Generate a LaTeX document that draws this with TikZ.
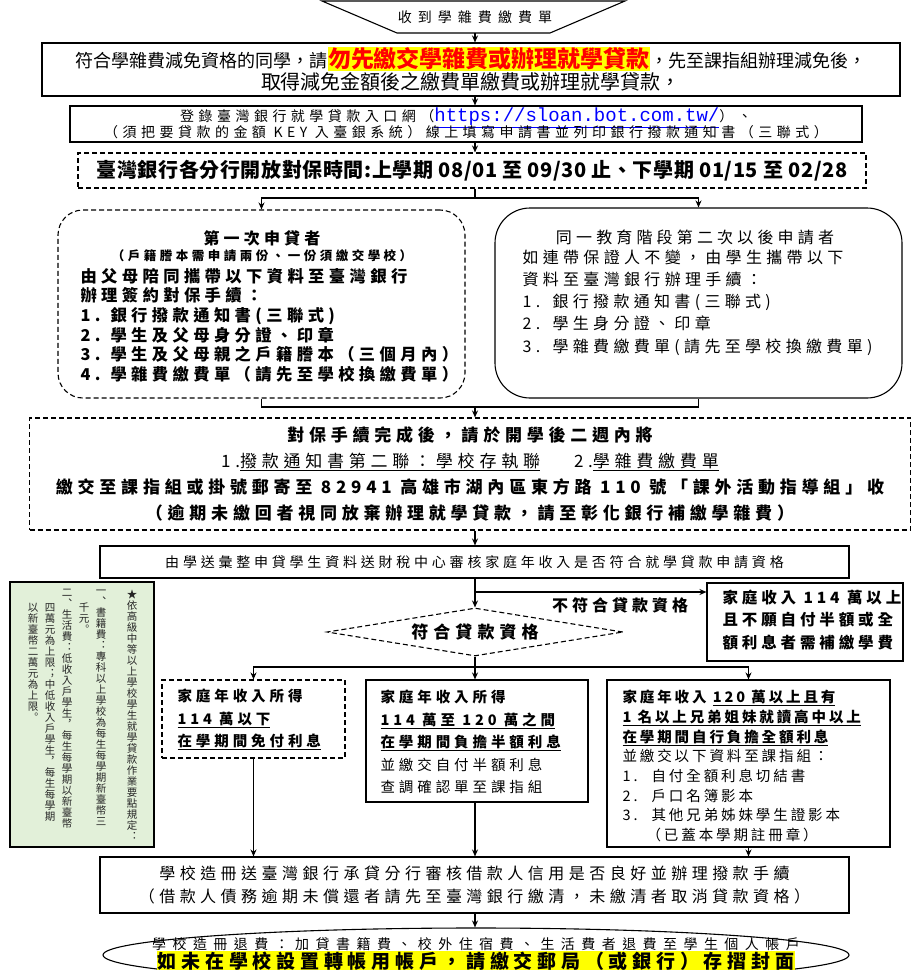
\documentclass[tikz,border=0pt]{standalone}
\usepackage{fontspec}
\setmainfont{Noto Sans CJK TC}
\setmonofont{Liberation Mono}
\usetikzlibrary{arrows.meta,shapes.geometric}
\definecolor{notegreen}{RGB}{226,240,217}
\definecolor{hlyellow}{RGB}{255,255,0}
\newcommand\fs[2]{\fontsize{#1}{#2}\selectfont}
\newcommand\ls[1]{\addfontfeature{LetterSpace=#1}}
\newcommand\ulbar[1]{\leavevmode\vtop{\hbox{#1}\kern1.2pt\hrule height0.9pt}}
\newcommand\hlbox[1]{{\setlength\fboxsep{0.5pt}\colorbox{hlyellow}{#1}}}
\newcommand\itemno[2][30pt]{\makebox[#1][l]{#2}}
\newcommand\vcol[1]{\vbox{\baselineskip=11pt\lineskiplimit=-20pt\expandafter\vcolchar#1\relax}}
\def\vcolchar#1{\ifx\relax#1\else\hbox to 11pt{\hss#1\hss}\expandafter\vcolchar\fi}
\begin{document}
\begin{tikzpicture}
            [x=1pt,y=-1pt,line width=1.1pt,every node/.style={inner sep=0pt},
             arr/.style={-{Stealth[length=7pt,width=6pt]}},
             box/.style n args={2}{draw,minimum width=#1,minimum height=#2},
             dbox/.style n args={2}{box={#1}{#2},dash pattern=on 5pt off 3pt},
             txt/.style={align=left,anchor=west}]
            \useasboundingbox (0,0) rectangle (920,970);
            \draw (322,1) -- (625,1) -- (550,33) -- (397,33) -- cycle;
            \node[font=\fs{14}{14}\ls{43}] (n1) at (475,17) {收到學雜費繳費單};
            \coordinate (n1b) at (475,33);
            \node[box={858}{53},align=center,font=\fs{18}{22}] (n2) at (471,69.5)
              {符合學雜費減免資格的同學，請\hlbox{\textcolor{red}{\fs{23}{23}\bfseries 勿先繳交學雜費或辦理就學貸款}}，先至課指組辦理減免後，\\
               {\fs{20}{22}取得減免金額後之繳費單繳費或辦理就學貸款，}};
            \node[box={792}{36},align=center,font=\fs{14}{15.5}\ls{32}] (n3) at (466,124)
              {登錄臺灣銀行就學貸款入口網（\smash{\ttfamily\fs{19}{15}\color{blue}\ulbar{https://sloan.bot.com.tw/}}）、\\
               （須把要貸款的金額 KEY 入臺銀系統）線上填寫申請書並列印銀行撥款通知書（三聯式）};
            \node[dbox={788}{35},font=\fs{20}{20}\ls{3}\bfseries] (n4) at (472,170.5)
              {臺灣銀行各分行開放對保時間:上學期 08/01 至 09/30 止、下學期 01/15 至 02/28};
            \coordinate (s1) at (475,198);
            \node[dbox={407}{188},rounded corners=25] (nL) at (261.5,304) {};
            \node[box={407}{190},rounded corners=35] (nR) at (698.5,303) {};
            \node[font=\fs{16}{16}\ls{26}\bfseries] (nLt) at (262,238) {第一次申貸者};
            \node[font=\fs{12.5}{13}\ls{28}\bfseries] (nLs) at (262,256) {（戶籍謄本需申請兩份、一份須繳交學校）};
            \node[txt,font=\fs{16.3}{19.6}\ls{27}\bfseries] (nLb) at (80,325)
              {由父母陪同攜帶以下資料至臺灣銀行\\辦理簽約對保手續：\\
               \itemno{1.}銀行撥款通知書(三聯式)\\\itemno{2.}學生及父母身分證、印章\\
               \itemno{3.}學生及父母親之戶籍謄本（三個月內）\\\itemno{4.}學雜費繳費單（請先至學校換繳費單）};
            \node[font=\fs{16}{16}\ls{26}] (nRt) at (695,237) {同一教育階段第二次以後申請者};
            \node[txt,font=\fs{16}{22.2}\ls{27}] (nRb) at (522,302.5)
              {如連帶保證人不變，由學生攜帶以下\\資料至臺灣銀行辦理手續：\\
               \itemno{1.}銀行撥款通知書(三聯式)\\\itemno{2.}學生身分證、印章\\\itemno{3.}學雜費繳費單(請先至學校換繳費單)};
            \coordinate (m1) at (475,407);
            \node[dbox={881}{112},align=center,font=\fs{17}{26.3}\ls{28}] (n5) at (470,474)
              {{\bfseries 對保手續完成後，請於開學後二週內將}\\
               1.\ulbar{撥款通知書第二聯：學校存執聯}\quad\quad 2.\ulbar{學雜費繳費單}\\
               {\bfseries 繳交至課指組或掛號郵寄至 82941 高雄市湖內區東方路 110 號「課外活動指導組」收}\\
               {\bfseries （逾期未繳回者視同放棄辦理就學貸款，請至彰化銀行補繳學雜費）}};
            \node[box={749}{32},font=\fs{14}{14}\ls{27}] (n6) at (474.5,562)
              {由學送彙整申貸學生資料送財稅中心審核家庭年收入是否符合就學貸款申請資格};
            \coordinate (b1) at (475,592);
            \node[font=\fs{16}{16}\ls{25}\bfseries] (nno) at (620,605) {不符合貸款資格};
            \node[box={196}{78}] (n7) at (805,622) {};
            \node[txt,font=\fs{15.5}{22.5}\ls{25}\bfseries] (n7t) at (722,620)
              {家庭收入 114 萬以上\\且不願自付半額或全\\額利息者需補繳學費};
            \node[diamond,draw,dash pattern=on 5pt off 3pt,aspect=6,minimum width=296,minimum height=48,
                  font=\fs{17}{17}\ls{30}\bfseries] (dia) at (475,632) {符合貸款資格};
            \coordinate (b2) at (475,667);
            \node[dbox={183}{78}] (nA) at (253.5,719) {};
            \node[txt,font=\fs{14.5}{22.5}\ls{27}\bfseries] (nAt) at (177,719.5)
              {家庭年收入所得\\\ulbar{114 萬以下}\\\ulbar{在學期間免付利息}};
            \node[box={222}{122}] (nB) at (477,741) {};
            \node[txt,font=\fs{14.5}{22.5}\ls{27}] (nBt) at (380,742)
              {{\bfseries 家庭年收入所得}\\{\bfseries\ulbar{114 萬至 120 萬之間}}\\{\bfseries\ulbar{在學期間負擔半額利息}}\\
               並繳交自付半額利息\\查調確認單至課指組};
            \node[box={283}{167}] (nC) at (748.5,763.5) {};
            \node[txt,font=\fs{14.5}{19.7}\ls{20}] (nCt) at (622,766)
              {{\bfseries 家庭年收入 \ulbar{120 萬以上且有}}\\{\bfseries\ulbar{1 名以上兄弟姐妹就讀高中以上}}\\
               {\bfseries\ulbar{在學期間自行負擔全額利息}}\\並繳交以下資料至課指組：\\
               \itemno[29pt]{1.}自付全額利息切結書\\\itemno[29pt]{2.}戶口名簿影本\\
               \itemno[29pt]{3.}其他兄弟姊妹學生證影本\\\hspace*{24pt}（已蓋本學期註冊章）};
            \node[box={144}{265},fill=notegreen] (ng) at (82,714.5) {};
            \foreach \x/\txt in {132/★依高級中等以上學校學生就學貸款作業要點規定︓,
                                 101/一︑書籍費︓專科以上學校為每生每學期新臺幣三,
                                 84/　　千元︒,
                                 67/二︑生活費︓低收入戶學生︐每生每學期以新臺幣,
                                 50/　　四萬元為上限︔中低收入戶學生︐每生每學期,
                                 33/　　以新臺幣二萬元為上限︒}
            \node[anchor=north,font=\fs{10.5}{11}\color{black!85}] (v\x) at (\x,589) {\vcol{\txt}};
            \node[box={749}{56},align=center,font=\fs{16}{23}\ls{28}] (n8) at (474.5,885)
              {學校造冊送臺灣銀行承貸分行審核借款人信用是否良好並辦理撥款手續\\
               （借款人債務逾期未償還者請先至臺灣銀行繳清，未繳清者取消貸款資格）};
            \node[ellipse,draw,minimum width=746,minimum height=54] (ell) at (476,955) {};
            \node[align=center,font=\fs{14}{17}] (ellt) at (476,954)
              {{\ls{46}學校造冊退費：加貸書籍費、校外住宿費、生活費者退費至學生個人帳戶}\\
               \hlbox{\fs{19}{19}\ls{25}\bfseries 如未在學校設置轉帳用帳戶，請繳交郵局（或銀行）存摺封面}};
            \draw[arr] (n1b) -- (n2.north -| n1b);
            \draw[arr] (n2.south -| n1b) -- (n3.north -| n1b);
            \draw[arr] (n3.south -| n1b) -- (n4.north -| n1b);
            \draw (n4.south -| s1) -- (s1);
            \draw[arr] (s1) -| (nL.north);
            \draw[arr] (s1) -| (nR.north);
            \draw (nL.south) |- (m1) -| (nR.south);
            \draw[arr] (m1) -- (n5.north -| m1);
            \draw[arr] (n5.south -| m1) -- (n6.north -| m1);
            \draw (n6.south -| b1) -- (b1);
            \draw[arr] (b1) -- (dia.north);
            \draw[arr] (b1) -- (b1 -| n7.west);
            \draw (dia.south) -- (b2);
            \draw[arr] (b2) -| (nA.north);
            \draw[arr] (b2) -- (nB.north -| b2);
            \draw[arr] (b2) -| (nC.north);
            \draw[arr] (nA.south) -- (nA.south |- n8.north);
            \draw[arr] (nB.south -| b2) -- (n8.north -| b2);
            \draw[arr] (nC.south) -- (nC.south |- n8.north);
            \draw[arr] (n8.south -| b2) -- (ell.north -| b2);
        \end{tikzpicture}
\end{document}
